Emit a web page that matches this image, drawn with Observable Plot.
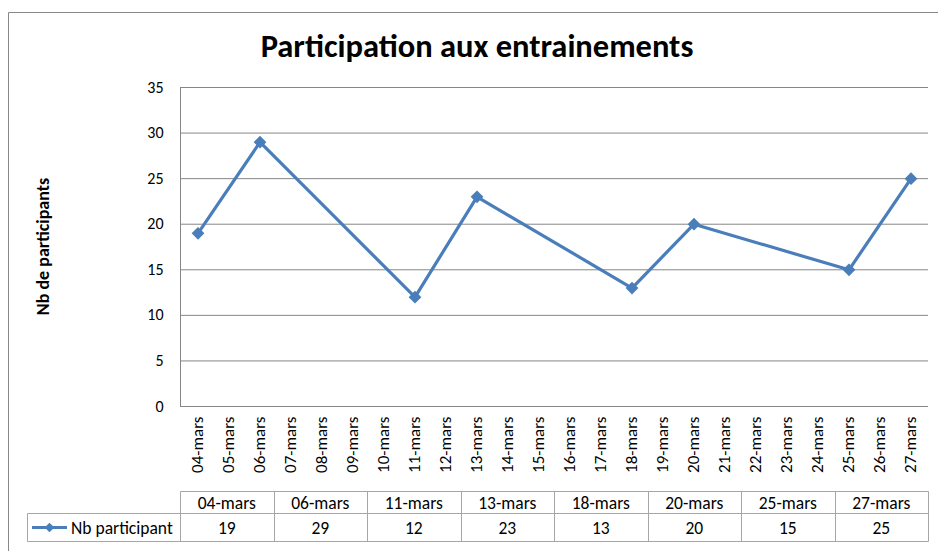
<!DOCTYPE html>
<html><head><meta charset="utf-8">
<script src="https://cdn.jsdelivr.net/npm/d3@7"></script>
<script src="https://cdn.jsdelivr.net/npm/@observablehq/plot@0.6"></script>
<style>
body{margin:0;background:#fff;}
svg{font-family:Carlito,Calibri,Lato,sans-serif;}
</style></head><body><div id="chart"></div>
<script>
const title = "Participation aux entrainements";
const yLabel = "Nb de participants";
const seriesName = "Nb participant";
const dayLabels = ["04-mars","05-mars","06-mars","07-mars","08-mars","09-mars","10-mars","11-mars","12-mars","13-mars","14-mars","15-mars","16-mars","17-mars","18-mars","19-mars","20-mars","21-mars","22-mars","23-mars","24-mars","25-mars","26-mars","27-mars"];
const dates = ["04-mars","06-mars","11-mars","13-mars","18-mars","20-mars","25-mars","27-mars"];
const values = [19, 29, 12, 23, 13, 20, 15, 25];
const yTicks = [0, 5, 10, 15, 20, 25, 30, 35];

const data = dates.map((d, i) => ({date: d, value: values[i]}));

const BLUE = "#4A7EBB";
const GRID = "#868686";
const TABLE = "#A6A6A6";
const FS_Y = 16;
const FS_X = 17;
const FS_T = 17.5;

function decorations(index, scales, values_, dims) {
  const {width, height, marginLeft, marginRight, marginTop, marginBottom} = dims;
  const g = d3.create("svg:g");
  const right = width - marginRight;
  const bottom = height - marginBottom;
  // outer chart frame
  g.append("path").attr("d", `M8.5,${height + 5}V12.5H${width + 5}`)
    .attr("fill", "none").attr("stroke", "#888").attr("stroke-width", 1);
  // title
  g.append("text").attr("x", 477).attr("y", 46).attr("text-anchor", "middle")
    .attr("dominant-baseline", "central").attr("font-weight", "bold").attr("font-size", 32.5)
    .attr("fill", "#000").text(title);
  // y label
  g.append("text").attr("transform", `translate(43,${(marginTop + bottom) / 2}) rotate(-90)`)
    .attr("text-anchor", "middle").attr("dominant-baseline", "central")
    .attr("font-weight", "bold").attr("font-size", 18).attr("fill", "#000").text(yLabel);
  // y axis line
  g.append("line").attr("x1", marginLeft + 0.5).attr("x2", marginLeft + 0.5)
    .attr("y1", marginTop).attr("y2", bottom).attr("stroke", GRID);
  // data table
  const top = bottom + 85, h1 = 22, h2 = 28, legLeft = 27.5;
  const cw = (right - marginLeft) / dates.length;
  const lines = g.append("g").attr("stroke", TABLE).attr("fill", "none");
  lines.append("path").attr("d",
    `M${marginLeft + 0.5},${top + 0.5}H${right + 0.5}` +
    `M${legLeft},${top + h1 + 0.5}H${right + 0.5}` +
    `M${legLeft},${top + h1 + h2 + 0.5}H${right + 0.5}` +
    `M${legLeft},${top + h1 + 0.5}V${top + h1 + h2 + 0.5}`);
  for (let i = 0; i <= dates.length; i++) {
    const x = Math.round(marginLeft + i * cw) + 0.5;
    lines.append("path").attr("d", `M${x},${top + 0.5}V${top + h1 + h2 + 0.5}`);
  }
  const tx = g.append("g").attr("font-size", FS_T).attr("fill", "#000")
    .attr("text-anchor", "middle").attr("dominant-baseline", "central");
  dates.forEach((d, i) => {
    tx.append("text").attr("x", marginLeft + (i + 0.5) * cw).attr("y", top + h1 / 2 + 0.5).text(d);
    tx.append("text").attr("x", marginLeft + (i + 0.5) * cw).attr("y", top + h1 + h2 / 2 + 0.5).text(values[i]);
  });
  // legend key
  const ly = top + h1 + h2 / 2 + 0.5;
  g.append("line").attr("x1", 32).attr("x2", 67).attr("y1", ly).attr("y2", ly)
    .attr("stroke", BLUE).attr("stroke-width", 3);
  g.append("path").attr("d", d3.symbol(d3.symbolDiamond2, 60)()).attr("transform", `translate(49.5,${ly})`)
    .attr("fill", BLUE);
  g.append("text").attr("x", 71).attr("y", ly).attr("dominant-baseline", "central")
    .attr("text-anchor", "start")
    .attr("font-size", FS_T).attr("fill", "#000").text(seriesName);
  return g.node();
}

const chart = Plot.plot({
  width: 938,
  height: 551,
  marginLeft: 180,
  marginRight: 10,
  marginTop: 87,
  marginBottom: 145,
  style: {fontSize: FS_Y + "px", color: "#000", background: "#fff"},
  x: {type: "band", domain: dayLabels, padding: 0},
  y: {domain: [0, 35]},
  marks: [
    Plot.gridY(yTicks, {stroke: GRID, strokeOpacity: 1}),
    Plot.axisY(yTicks, {tickSize: 0, tickPadding: 17, label: null, fontSize: FS_Y}),
    Plot.axisX({tickRotate: -90, tickSize: 0, tickPadding: 10, label: null, fontSize: FS_X}),
    decorations,
    Plot.line(data, {x: "date", y: "value", stroke: BLUE, strokeWidth: 3.2}),
    Plot.dot(data, {x: "date", y: "value", symbol: "diamond2", r: 4.8, fill: BLUE, stroke: BLUE})
  ]
});
document.getElementById("chart").append(chart);
</script></body></html>
